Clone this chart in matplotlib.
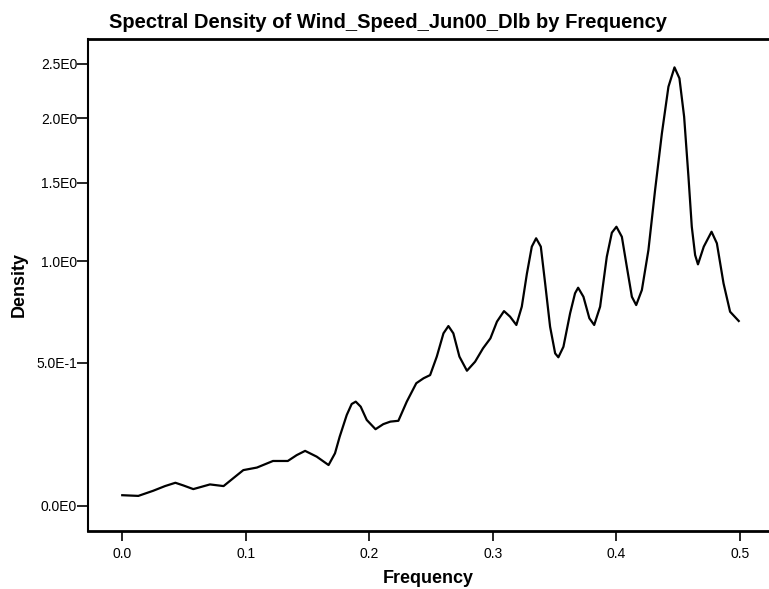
import numpy as np
import matplotlib
matplotlib.use("Agg")
import matplotlib.pyplot as plt

plt.rcParams['font.family'] = ['Liberation Sans', 'DejaVu Sans']

# spectral density curve
freq = [0.000, 0.013, 0.025, 0.0346, 0.043, 0.0494, 0.0575, 0.0643, 0.071, 0.082,
        0.0899, 0.098, 0.109, 0.122, 0.134, 0.1412, 0.148, 0.1574, 0.167, 0.1722,
        0.176, 0.1817, 0.1857, 0.189, 0.193, 0.1979, 0.205, 0.2113, 0.217, 0.2235,
        0.2303, 0.238, 0.2439, 0.2492, 0.2546, 0.260, 0.264, 0.268, 0.2729, 0.279,
        0.2856, 0.292, 0.298, 0.3033, 0.309, 0.3139, 0.319, 0.3234, 0.3275, 0.3315,
        0.335, 0.3388, 0.3423, 0.3463, 0.3504, 0.353, 0.3571, 0.3625, 0.3665, 0.369,
        0.3733, 0.3781, 0.382, 0.3868, 0.3922, 0.3963, 0.400, 0.4044, 0.4084, 0.4125,
        0.416, 0.4206, 0.4259, 0.4313, 0.4368, 0.4421, 0.447, 0.451, 0.4548, 0.4583,
        0.461, 0.4637, 0.466, 0.4707, 0.477, 0.4813, 0.4867, 0.492, 0.499]
density = [0.031, 0.029, 0.044, 0.058, 0.068, 0.060, 0.049, 0.056, 0.063, 0.058,
           0.082, 0.107, 0.115, 0.136, 0.136, 0.155, 0.169, 0.150, 0.123, 0.161,
           0.217, 0.294, 0.335, 0.344, 0.325, 0.276, 0.243, 0.261, 0.270, 0.273,
           0.344, 0.416, 0.436, 0.449, 0.527, 0.631, 0.665, 0.631, 0.527, 0.467,
           0.505, 0.563, 0.608, 0.686, 0.737, 0.710, 0.670, 0.759, 0.930, 1.085,
           1.135, 1.085, 0.879, 0.662, 0.541, 0.524, 0.570, 0.726, 0.827, 0.856,
           0.809, 0.702, 0.670, 0.759, 1.026, 1.169, 1.206, 1.144, 0.970, 0.809,
           0.767, 0.844, 1.065, 1.448, 1.874, 2.280, 2.465, 2.359, 2.013, 1.542,
           1.206, 1.036, 0.983, 1.085, 1.175, 1.105, 0.879, 0.734, 0.689]

xticks = [0.0, 0.1, 0.2, 0.3, 0.4, 0.5]
yticks = [0.0, 0.5, 1.0, 1.5, 2.0, 2.5]
ytick_labels = ['0.0E0', '5.0E-1', '1.0E0', '1.5E0', '2.0E0', '2.5E0']

fig = plt.figure(figsize=(7.69, 5.89), dpi=100)
ax = fig.add_axes([0.1148, 0.099, 1.0 - 0.1148, 0.9333 - 0.099])

ax.plot(freq, density, color='black', linewidth=1.6, solid_joinstyle='round')

# density axis is drawn on a log(1 + y) scale
ax.set_yscale('function', functions=(np.log1p, np.expm1))
ax.set_xlim(-0.0275, 0.5235)
ax.set_ylim(-0.0676, 2.752)

ax.set_xticks(xticks)
ax.set_xticklabels(['%.1f' % t for t in xticks])
ax.set_yticks(yticks)
ax.set_yticklabels(ytick_labels)
ax.minorticks_off()

ax.tick_params(axis='both', direction='out', labelsize=10, width=1.2, color='black')
ax.tick_params(axis='y', length=8, pad=0)
ax.tick_params(axis='x', length=7, pad=5)

ax.spines['right'].set_visible(False)
ax.spines['left'].set_linewidth(1.5)
ax.spines['bottom'].set_linewidth(2)
ax.spines['top'].set_linewidth(2)

ax.set_xlabel('Frequency', fontsize=13, fontweight='bold', labelpad=6)
ax.set_ylabel('Density', fontsize=13, fontweight='bold', labelpad=6)
fig.text(0.504, 1 - 28 / 589, 'Spectral Density of Wind_Speed_Jun00_Dlb by Frequency',
         ha='center', va='baseline', fontsize=14.5, fontweight='bold')

fig.savefig('out.png', dpi=100)
